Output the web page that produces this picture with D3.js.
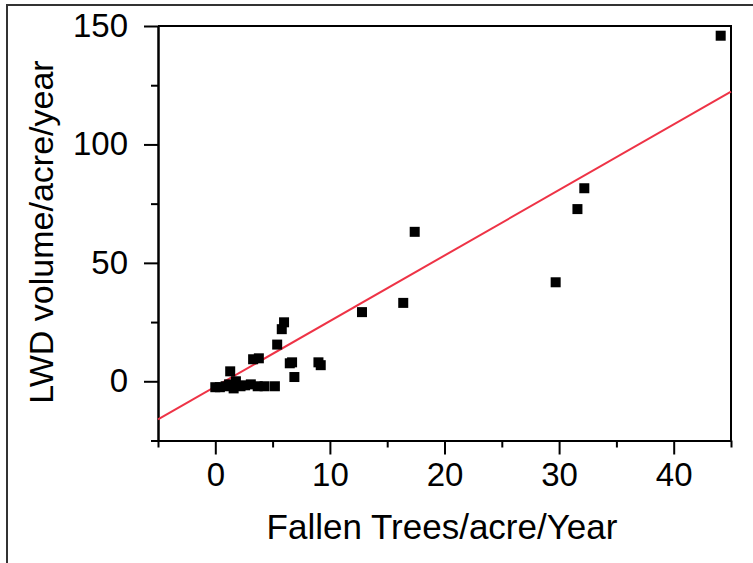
<!DOCTYPE html>
<html>
<head>
<meta charset="utf-8">
<script src="https://cdn.jsdelivr.net/npm/d3@7"></script>
<style>
	html, body { margin: 0; padding: 0; background: #fff; }
	svg { display: block; font-family: "Liberation Sans", Arial, sans-serif; }
	.axis path, .axis line { stroke: #000; stroke-width: 2; }
	.axis text { font-size: 33px; fill: #000; }
</style>
</head>
<body>
<div id="chart"></div>
<script>
// points
const fallenTrees = [44.1, 32.2, 31.6, 29.7, 17.4, 16.4, 12.8, 6.0, 5.8, 5.4,
	3.3, 3.8, 6.5, 6.7, 9.0, 9.2, 6.9, 5.2, 1.3, 0.0,
	0.4, 0.9, 1.2, 1.6, 1.8, 2.2, 2.6, 3.1, 3.7, 4.3];
const lwdVolume = [145.9, 81.5, 72.7, 41.8, 63.1, 33.1, 29.2, 24.9, 22.0, 15.5,
	9.3, 9.7, 7.6, 8.0, 8.0, 6.8, 1.8, -2.1, 4.2, -2.5,
	-2.5, -2.1, -1.3, -3.0, 0.0, -2.1, -1.7, -1.3, -2.1, -2.1];

// fitted line end points
const fitX = [-5, 45];
const fitY = [-16.1, 122.3];

const xMajorTicks = [0, 10, 20, 30, 40];
const xMinorTicks = [-5, 5, 15, 25, 35, 45];
const yMajorTicks = [0, 50, 100, 150];
const yMinorTicks = [-25, 25, 75, 125];

const xTitle = 'Fallen Trees/acre/Year';
const yTitle = 'LWD volume/acre/year';

const width = 753;
const height = 563;

const svg = d3.select('#chart').append('svg')
	.attr('width', width)
	.attr('height', height);

const x = d3.scaleLinear()
	.domain([-5, 45])
	.range([158, 731]);
const y = d3.scaleLinear()
	.domain([-25, 150])
	.range([440.5, 26]);

// outer figure border (top and left only, cropped)
svg.append('path')
	.attr('d', `M7,563 V5 H753`)
	.style('fill', 'none')
	.style('stroke', '#333')
	.style('stroke-width', 2);

// minor ticks first
svg.append('g')
	.attr('class', 'x axis')
	.attr('transform', `translate(0, ${y.range()[0]})`)
	.call(d3.axisBottom(x).tickValues(xMinorTicks).tickSize(7).tickSizeOuter(0).tickFormat(''));
svg.append('g')
	.attr('class', 'y axis')
	.attr('transform', `translate(${x.range()[0]}, 0)`)
	.call(d3.axisLeft(y).tickValues(yMinorTicks).tickSize(7).tickSizeOuter(0).tickFormat(''));

// major ticks with labels
svg.append('g')
	.attr('class', 'x axis')
	.attr('transform', `translate(0, ${y.range()[0]})`)
	.call(d3.axisBottom(x).tickValues(xMajorTicks).tickSize(14).tickSizeOuter(0).tickPadding(8));
svg.append('g')
	.attr('class', 'y axis')
	.attr('transform', `translate(${x.range()[0]}, 0)`)
	.call(d3.axisLeft(y).tickValues(yMajorTicks).tickSize(14).tickSizeOuter(0).tickPadding(16));

// top and right frame
svg.append('path')
	.attr('d', `M${x(-5)},${y(150)} H${x(45)} V${y(-25)}`)
	.style('fill', 'none')
	.style('stroke', '#000')
	.style('stroke-width', 2);

// regression line
const line = d3.line()
	.x(d => x(d[0]))
	.y(d => y(d[1]));
svg.append('path')
	.datum(fitX.map((v, i) => [v, fitY[i]]))
	.attr('d', line)
	.style('fill', 'none')
	.style('stroke', '#ee3346')
	.style('stroke-width', 2);

// markers
const size = 10;
svg.append('g')
	.selectAll('rect')
	.data(fallenTrees.map((v, i) => ({ x: v, y: lwdVolume[i] })))
	.enter()
	.append('rect')
	.attr('x', d => x(d.x) - size / 2)
	.attr('y', d => y(d.y) - size / 2)
	.attr('width', size)
	.attr('height', size)
	.style('fill', '#000');

// titles
svg.append('text')
	.attr('x', 442)
	.attr('y', 539)
	.style('font-size', '35px')
	.style('text-anchor', 'middle')
	.text(xTitle);
svg.append('text')
	.attr('transform', 'rotate(-90)')
	.attr('x', -232)
	.attr('y', 53)
	.style('font-size', '34px')
	.style('text-anchor', 'middle')
	.text(yTitle);
</script>
</body>
</html>
